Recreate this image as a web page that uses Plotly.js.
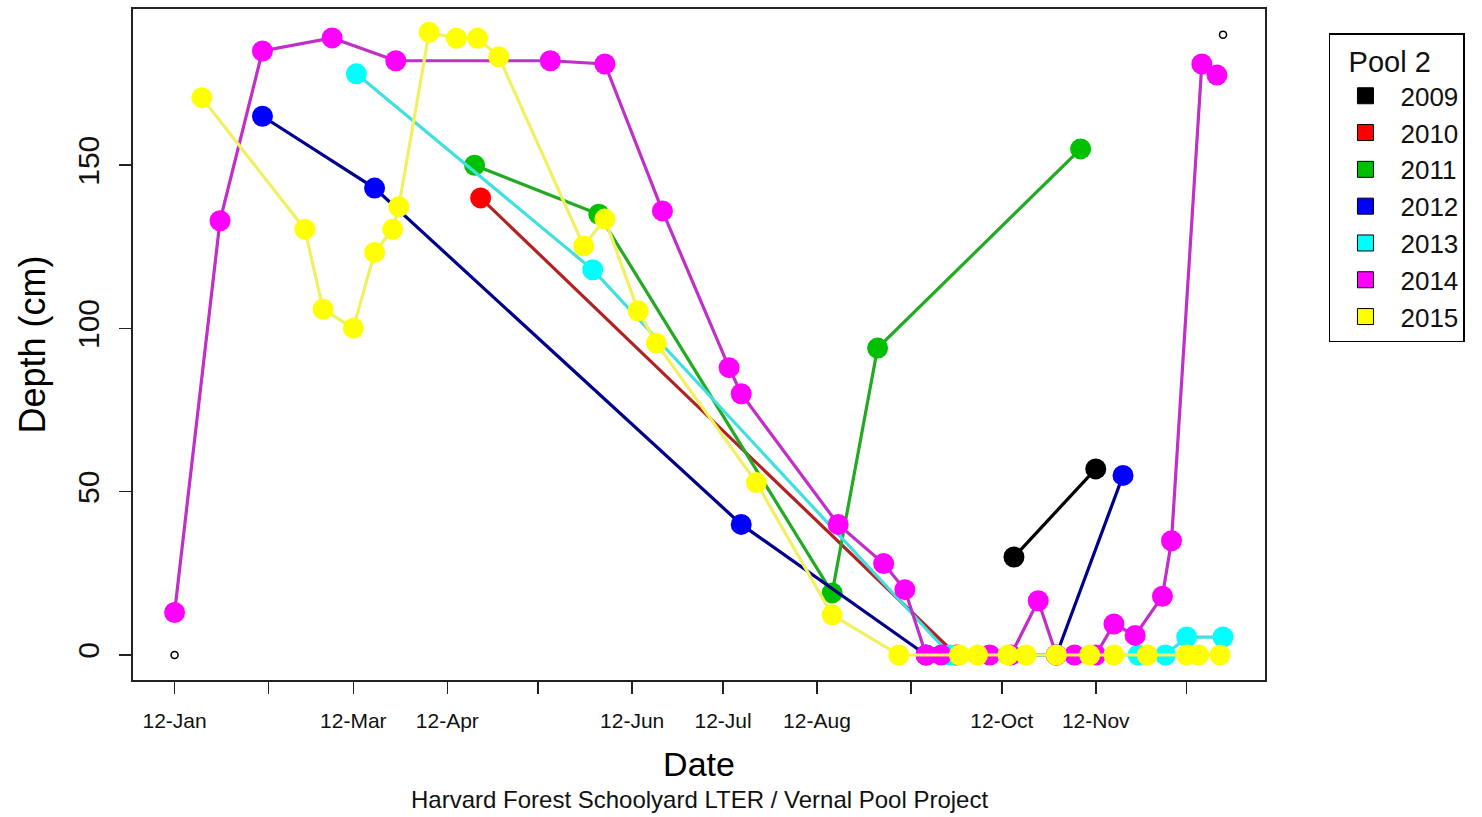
<!DOCTYPE html>
<html>
<head>
<meta charset="utf-8">
<script src="https://cdn.plot.ly/plotly-3.0.1.min.js"></script>
<style>
  html, body { margin: 0; padding: 0; background: #ffffff; }
  #chart { width: 1482px; height: 817px; }
</style>
</head>
<body>
<div id="chart"></div>
<script>
// ---- Data (dates as month-day within a common year, depth in cm) ----
const BASE_YEAR = "2001-";

const years = ["2009", "2010", "2011", "2012", "2013", "2014", "2015"];

const dates2009 = ["10-16", "11-12"];
const depth2009 = [30, 57];

const dates2010 = ["04-23", "09-27"];
const depth2010 = [140, 0];

const dates2011 = ["04-21", "06-01", "08-17", "09-01", "11-07"];
const depth2011 = [150, 135, 19, 94, 155];

const dates2012 = ["02-10", "03-19", "07-18", "09-17", "10-30", "11-21"];
const depth2012 = [165, 143, 40, 0, 0, 55];

const dates2013 = ["03-13", "05-30", "09-25", "11-26", "12-05", "12-12", "12-24"];
const depth2013 = [178, 118, 0, 0, 0, 5.5, 5.5];

const dates2014 = ["01-12", "01-27", "02-10", "03-05", "03-26", "05-16", "06-03", "06-22",
                   "07-14", "07-18", "08-19", "09-03", "09-10", "09-17", "09-22", "10-08",
                   "10-15", "10-24", "10-30", "11-05", "11-12", "11-18", "11-25", "12-04",
                   "12-07", "12-17", "12-22"];
const depth2014 = [13, 133, 185, 189, 182, 182, 181, 136,
                   88, 80, 40, 28, 20, 0, 0, 0,
                   0, 16.6, 0, 0, 0, 9.5, 6, 18,
                   35, 181, 177.6];

const dates2015 = ["01-21", "02-24", "03-02", "03-12", "03-19", "03-25", "03-27", "04-06",
                   "04-15", "04-22", "04-29", "05-27", "06-03", "06-14", "06-20", "07-23",
                   "08-17", "09-08", "09-28", "10-04", "10-14", "10-20", "10-30", "11-10",
                   "11-18", "11-29", "12-12", "12-16", "12-23"];
const depth2015 = [170.7, 130.4, 105.9, 100.1, 123.3, 130.4, 137.3, 190.7,
                   188.9, 188.9, 183.2, 125.3, 133.5, 105.4, 95.5, 52.8,
                   12.3, 0, 0, 0, 0, 0, 0, 0,
                   0, 0, 0, 0, 0];

// range-defining open points (first & last date, min & max depth)
const frameDates = ["01-12", "12-24"];
const frameDepth = [0, 190];

const tickDates = ["01-12", "02-12", "03-12", "04-12", "05-12", "06-12",
                   "07-12", "08-12", "09-12", "10-12", "11-12", "12-12"];
const tickLabels = ["12-Jan", "", "12-Mar", "12-Apr", "", "12-Jun",
                    "12-Jul", "12-Aug", "", "12-Oct", "12-Nov", ""];

const yTicks = [0, 50, 100, 150];

// ---- Styles ----
const markerColors = ["#000000", "#FF0000", "#00C000", "#0000FF", "#00FFFF", "#FF00FF", "#FFFF00"];
const lineColors   = ["#000000", "#B22222", "#22AA22", "#00008B", "#40E0E0", "#C030C8", "#F0F060"];

const seriesDates = [dates2009, dates2010, dates2011, dates2012, dates2013, dates2014, dates2015];
const seriesDepth = [depth2009, depth2010, depth2011, depth2012, depth2013, depth2014, depth2015];

const toDate = arr => arr.map(d => BASE_YEAR + d);

const traces = [];
traces.push({
  x: toDate(frameDates), y: frameDepth, type: "scatter", mode: "markers",
  marker: { symbol: "circle-open", size: 7, color: "#000000", line: { width: 1.5 } },
  showlegend: false, hoverinfo: "skip"
});

years.forEach((yr, i) => {
  traces.push({
    x: toDate(seriesDates[i]), y: seriesDepth[i], type: "scatter", mode: "lines+markers",
    name: yr, showlegend: false,
    line: { color: lineColors[i], width: 3.2 },
    marker: { color: markerColors[i], size: 21, line: { width: 0 } }
  });
});

// legend entries (filled squares with black border, as in the reference)
years.forEach((yr, i) => {
  traces.push({
    x: [null], y: [null], type: "scatter", mode: "markers", name: yr, showlegend: true,
    marker: { symbol: "square", size: 17, color: markerColors[i], line: { color: "#000000", width: 1 } }
  });
});

const layout = {
  width: 1482, height: 817,
  paper_bgcolor: "#ffffff", plot_bgcolor: "#ffffff",
  font: { family: "Liberation Sans, Arial, sans-serif", color: "#000000" },
  margin: { l: 133, r: 217, t: 9, b: 137, autoexpand: false },
  showlegend: true,
  xaxis: {
    type: "date",
    range: ["2000-12-29 06:43", "2002-01-06 20:24"],
    tickmode: "array",
    tickvals: toDate(tickDates),
    ticktext: tickLabels,
    ticks: "outside", ticklen: 12, tickwidth: 1.5, tickcolor: "#222222",
    tickfont: { size: 21, color: "#111111" },
    ticklabelstandoff: 9,
    showline: true, mirror: true, linecolor: "#222222", linewidth: 2,
    showgrid: false, zeroline: false,
    title: { text: "Date", font: { size: 34, color: "#000000" }, standoff: 21 }
  },
  yaxis: {
    range: [-7.66, 197.85],
    tickmode: "array",
    tickvals: yTicks,
    ticktext: yTicks.map(String),
    tickangle: -90,
    ticks: "outside", ticklen: 12, tickwidth: 1.5, tickcolor: "#222222",
    tickfont: { size: 30, color: "#111111" },
    ticklabelstandoff: 8,
    showline: true, mirror: true, linecolor: "#222222", linewidth: 2,
    showgrid: false, zeroline: false,
    title: { text: "Depth (cm)", font: { size: 36, color: "#000000" }, standoff: 15 }
  },
  legend: {
    x: 1.0565, y: 0.964, xanchor: "left", yanchor: "top",
    bgcolor: "#ffffff", bordercolor: "#000000", borderwidth: 1.5,
    font: { size: 26, color: "#111111" },
    title: { text: "  Pool 2", font: { size: 29, color: "#111111" } },
    itemwidth: 60, tracegroupgap: 0
  },
  annotations: [{
    text: "Harvard Forest Schoolyard LTER / Vernal Pool Project",
    xref: "paper", yref: "paper", x: 0.5, y: -0.1788,
    xanchor: "center", yanchor: "middle", showarrow: false,
    font: { size: 24, color: "#111111" }
  }]
};

Plotly.newPlot("chart", traces, layout, { displayModeBar: false, staticPlot: true });
</script>
</body>
</html>
